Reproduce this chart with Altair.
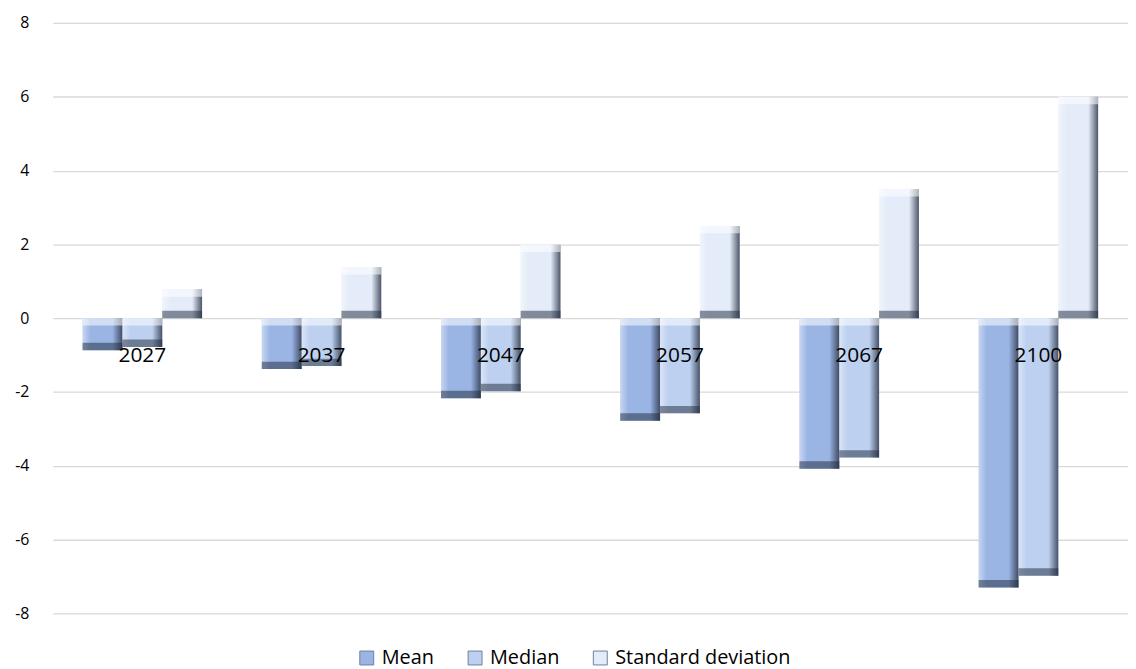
import altair as alt
import pandas as pd

years = ["2027", "2037", "2047", "2057", "2067", "2100"]
series = ["Mean", "Median", "Standard deviation"]
mean_vals = [-0.87, -1.38, -2.17, -2.78, -4.08, -7.30]
median_vals = [-0.78, -1.30, -1.98, -2.58, -3.78, -6.98]
std_vals = [0.78, 1.38, 1.99, 2.50, 3.50, 6.00]
colors = ["#9ab4e4", "#bdd0ef", "#e4ecf9"]
y_ticks = [-8, -6, -4, -2, 0, 2, 4, 6, 8]

rows = []
for i, yr in enumerate(years):
    for s, vals in zip(series, [mean_vals, median_vals, std_vals]):
        rows.append({"Year": yr, "Series": s, "Value": vals[i]})
df = pd.DataFrame(rows)
labels_df = pd.DataFrame({"Year": years})

FONT = "Open Sans"

x_enc = alt.X("Year:N", sort=years, axis=None,
              scale=alt.Scale(paddingInner=1/3, paddingOuter=1/6))
xo_enc = alt.XOffset("Series:N", sort=series,
                     scale=alt.Scale(domain=series, paddingInner=0, paddingOuter=0))
y_scale = alt.Scale(domain=[-8, 8], nice=False, zero=True)

base = alt.Chart(df).transform_calculate(
    hi="max(datum.Value, 0)",
    lo="min(datum.Value, 0)",
).transform_calculate(
    hi2="datum.hi - 0.2",
    lo2="datum.lo + 0.2",
).encode(x=x_enc, xOffset=xo_enc)

bars = base.mark_bar().encode(
    y=alt.Y("Value:Q", scale=y_scale, title=None,
            axis=alt.Axis(values=y_ticks, ticks=False, domain=False,
                          labelExpr="'' + datum.value",
                          labelFontSize=16, labelFont=FONT, labelColor="#000000",
                          labelPadding=24, gridColor="#d9d9d9", gridWidth=1.3)),
    color=alt.Color("Series:N", sort=series,
                    scale=alt.Scale(domain=series, range=colors),
                    legend=alt.Legend(title=None, orient="none", direction="horizontal",
                                      legendX=306, legendY=629,
                                      symbolType="square", symbolSize=196,
                                      symbolStrokeColor="#6f7f99", symbolStrokeWidth=1,
                                      labelFontSize=20, labelFont=FONT, labelLimit=0,
                                      labelColor="#000000", labelOffset=5,
                                      columnPadding=31)),
)

side = base.mark_bar(
    color=alt.LinearGradient(
        gradient="linear", x1=0, x2=1, y1=0, y2=0,
        stops=[
            alt.GradientStop(color="rgba(255,255,255,0.45)", offset=0),
            alt.GradientStop(color="rgba(255,255,255,0.0)", offset=0.2),
            alt.GradientStop(color="rgba(40,50,70,0.0)", offset=0.75),
            alt.GradientStop(color="rgba(40,50,70,0.8)", offset=1),
        ],
    )
).encode(y=alt.Y("Value:Q"))

top_edge = base.mark_bar(color="rgba(255,255,255,0.55)").encode(
    y=alt.Y("hi:Q"), y2="hi2:Q")
bot_edge = base.mark_bar(color="rgba(30,40,60,0.5)").encode(
    y=alt.Y("lo:Q"), y2="lo2:Q")

year_text = alt.Chart(labels_df).transform_calculate(
    zero="0"
).mark_text(
    fontSize=21, font=FONT, color="#000000", baseline="middle", align="center", dy=38
).encode(x=alt.X("Year:N", sort=years), y=alt.Y("zero:Q"), text="Year:N")

chart = alt.layer(bars, side, top_edge, bot_edge, year_text).properties(
    width=1082, height=594,
    padding={"top": 5, "left": 6, "right": 0, "bottom": 0},
    background="#ffffff",
).configure_view(stroke=None)

chart.save("out.html", embed_options={"renderer": "svg", "actions": False})
